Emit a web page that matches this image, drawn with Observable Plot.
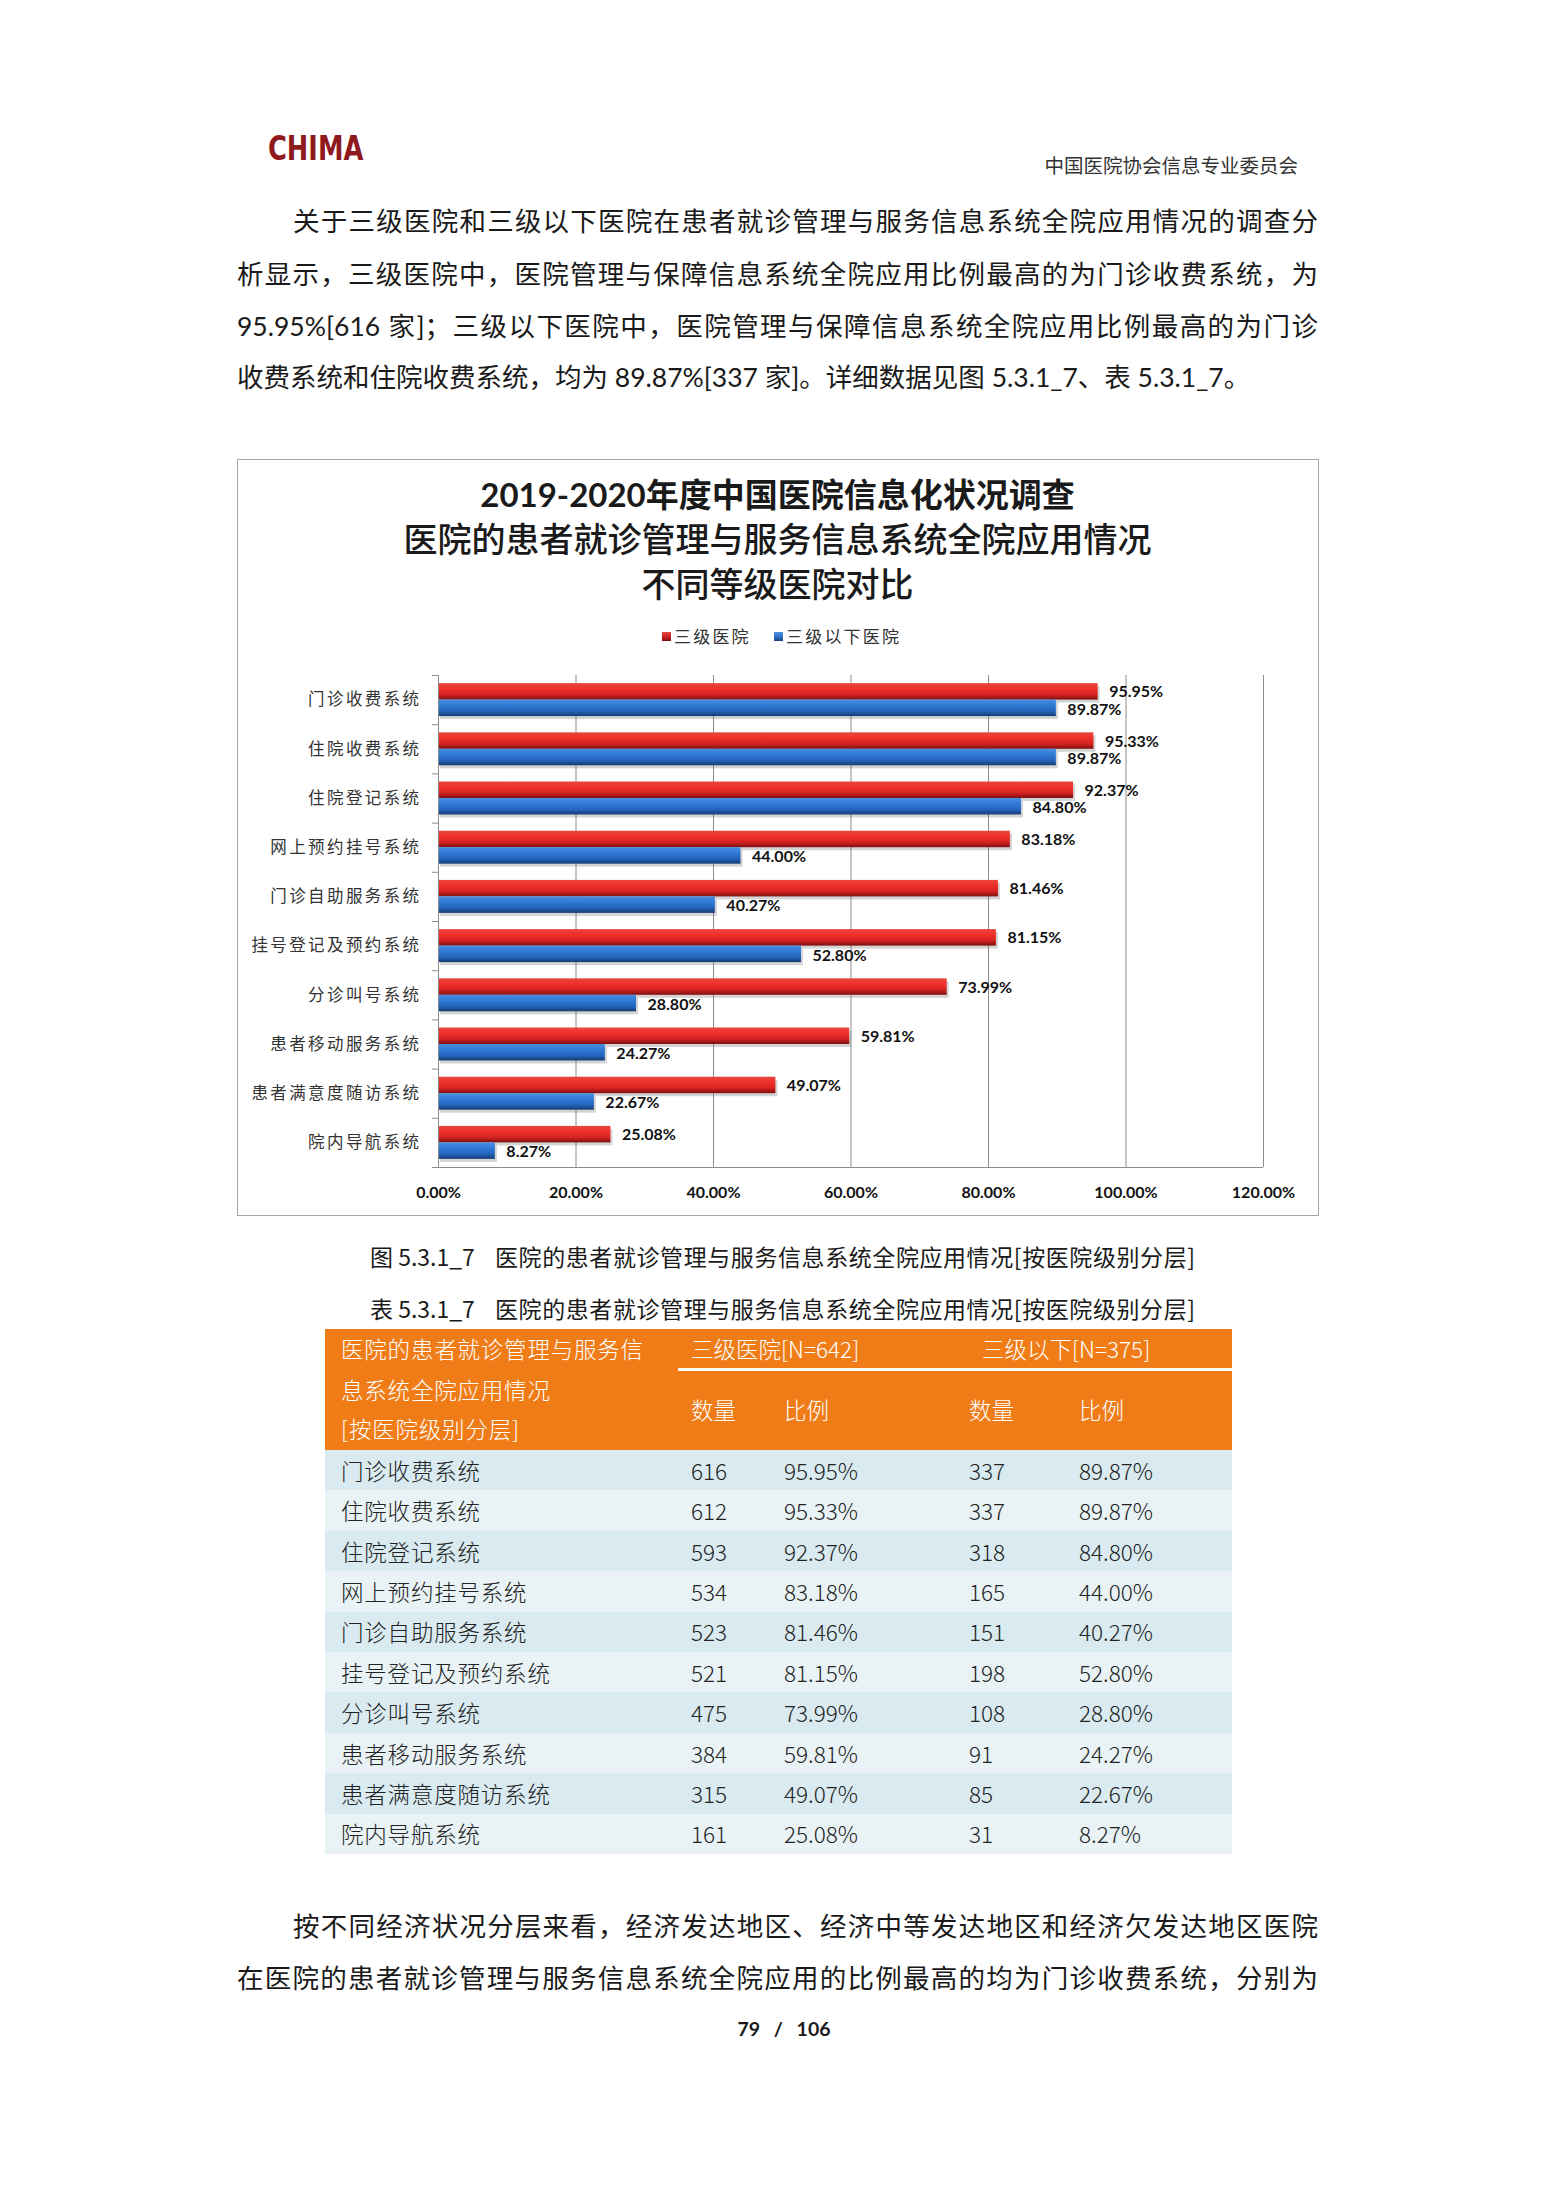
<!DOCTYPE html>
<html><head><meta charset="utf-8">
<script src="https://cdn.jsdelivr.net/npm/d3@7"></script>
<script src="https://cdn.jsdelivr.net/npm/@observablehq/plot@0.6"></script>
<style>
html,body{margin:0;padding:0;background:#fff;}
#page{position:relative;width:1555px;height:2199px;overflow:hidden;font-family:Lato,"Noto Sans CJK SC","Noto Sans",sans-serif;color:#1a1a1a;}
.t{position:absolute;white-space:nowrap;}
.j{position:absolute;white-space:nowrap;text-align:justify;text-align-last:justify;}
#box{position:absolute;left:237px;top:459px;width:1080px;height:755px;border:1px solid #a6a6a6;}
#chart{position:absolute;left:238px;top:660px;}
.sq{position:absolute;width:9px;height:9px;}
</style></head><body><div id="page"><div id="box"></div><div id="chart"></div></div>
<script>
// ---------- data ----------
const categories = ["门诊收费系统","住院收费系统","住院登记系统","网上预约挂号系统","门诊自助服务系统","挂号登记及预约系统","分诊叫号系统","患者移动服务系统","患者满意度随访系统","院内导航系统"];
const seriesNames = ["三级医院","三级以下医院"];
const pctTertiary = [95.95,95.33,92.37,83.18,81.46,81.15,73.99,59.81,49.07,25.08];
const pctLower = [89.87,89.87,84.80,44.00,40.27,52.80,28.80,24.27,22.67,8.27];
const cntTertiary = [616,612,593,534,523,521,475,384,315,161];
const cntLower = [337,337,318,165,151,198,108,91,85,31];
const nTertiary = 642, nLower = 375;
const xTicks = [0,20,40,60,80,100,120];
const titleLines = ["2019-2020年度中国医院信息化状况调查","医院的患者就诊管理与服务信息系统全院应用情况","不同等级医院对比"];
const tableHead = ["医院的患者就诊管理与服务信","息系统全院应用情况","[按医院级别分层]"];
const colHeads = ["数量","比例"];
const captionFig = ["图 5.3.1_7","医院的患者就诊管理与服务信息系统全院应用情况[按医院级别分层]"];
const captionTab = ["表 5.3.1_7","医院的患者就诊管理与服务信息系统全院应用情况[按医院级别分层]"];
const pct = v => v.toFixed(2) + "%";

// ---------- page text ----------
const page = document.getElementById("page");
function put(text, o) {
  const d = document.createElement("div");
  d.className = o.justify ? "j" : "t";
  d.textContent = text;
  const lh = o.lh || Math.round(o.size * 1.3);
  Object.assign(d.style, {
    left: (o.left || 0) + "px", top: (o.cy - lh / 2) + "px",
    fontSize: o.size + "px", lineHeight: lh + "px", height: lh + "px",
    color: o.color || "#1a1a1a", fontWeight: o.weight || "normal"
  });
  if (o.family) d.style.fontFamily = o.family;
  if (o.width) d.style.width = o.width + "px";
  if (o.align) d.style.textAlign = o.align;
  if (o.ls) d.style.letterSpacing = o.ls + "px";
  if (o.ws) d.style.wordSpacing = o.ws + "px";
  if (o.sx) { d.style.transform = `scaleX(${o.sx})`; d.style.transformOrigin = "left center"; }
  page.appendChild(d);
  return d;
}
const cjk = "'Noto Sans CJK SC', sans-serif";

// header
put("CHIMA", {left: 268, cy: 148, size: 34, weight: "bold", color: "#8f1a1e", family: "'Liberation Sans Narrow','DejaVu Sans Condensed',Roboto,sans-serif", sx: 0.84});
put("中国医院协会信息专业委员会", {left: 994, width: 304, align: "right", cy: 164, size: 19.5, color: "#333", family: cjk});

// paragraph 1
const p1 = [
  "关于三级医院和三级以下医院在患者就诊管理与服务信息系统全院应用情况的调查分",
  "析显示，三级医院中，医院管理与保障信息系统全院应用比例最高的为门诊收费系统，为",
  `${pct(pctTertiary[0])}[${cntTertiary[0]} 家]；三级以下医院中，医院管理与保障信息系统全院应用比例最高的为门诊`,
  `收费系统和住院收费系统，均为 ${pct(pctLower[0])}[${cntLower[0]} 家]。详细数据见图 5.3.1_7、表 5.3.1_7。`
];
put(p1[0], {left: 293, width: 1025, justify: true, cy: 221, size: 26.5});
put(p1[1], {left: 237, width: 1081, justify: true, cy: 274, size: 26.5});
put(p1[2], {left: 237, width: 1081, justify: true, cy: 326, size: 26.5});
put(p1[3], {left: 237, cy: 377, size: 26.5});

// chart title
put(titleLines[0], {left: 237, width: 1081, align: "center", cy: 494, size: 33, weight: "bold", family: "Lato,'Noto Sans CJK SC'"});
put(titleLines[1], {left: 237, width: 1081, align: "center", cy: 538, size: 34, weight: 500, family: cjk});
put(titleLines[2], {left: 237, width: 1081, align: "center", cy: 583, size: 34, weight: 500, family: cjk});

// legend
const legendColors = ["linear-gradient(#e8443c,#c42020 60%,#7a1010)", "linear-gradient(#4a90e0,#2a6fc8 60%,#163e78)"];
const legendX = [662, 774];
seriesNames.forEach((s, k) => {
  const q = document.createElement("div");
  q.className = "sq";
  q.style.left = legendX[k] + "px"; q.style.top = "632px"; q.style.background = legendColors[k];
  page.appendChild(q);
  put(s, {left: legendX[k] + 12, cy: 636, size: 17, color: "#333", family: cjk, ls: 2.2});
});

// ---------- chart ----------
const rows = categories.map((c, i) => ({c, i, t: pctTertiary[i], l: pctLower[i]}));
const axisGray = "#8c8c8c";
const chart = Plot.plot({
  width: 1079, height: 555,
  marginTop: 15, marginBottom: 48, marginLeft: 200, marginRight: 54,
  style: {fontFamily: "Lato,'Noto Sans CJK SC',sans-serif", background: "transparent", overflow: "visible"},
  x: {domain: [0, 120], axis: null},
  y: {domain: [10, 0], axis: null},
  marks: [
    Plot.ruleX(xTicks.filter(d => d > 0), {stroke: axisGray, strokeWidth: 1}),
    Plot.axisX({ticks: xTicks, tickSize: 0, tickPadding: 19, tickFormat: pct, fontWeight: "bold", fontSize: 16, color: "#111"}),
    Plot.axisY({ticks: d3.range(11), tickSize: 6, tickFormat: () => "", stroke: axisGray}),
    // drop shadows
    Plot.rect(rows, {x1: 0, x2: "t", y1: d => d.i + 0.165, y2: d => d.i + 0.5, fill: "#666", fillOpacity: 0.28, dx: 2, dy: 3}),
    Plot.rect(rows, {x1: 0, x2: "l", y1: d => d.i + 0.5, y2: d => d.i + 0.835, fill: "#666", fillOpacity: 0.28, dx: 2, dy: 3}),
    // bars
    Plot.rect(rows, {x1: 0, x2: "t", y1: d => d.i + 0.165, y2: d => d.i + 0.5, fill: "#e03131"}),
    Plot.rect(rows, {x1: 0, x2: "l", y1: d => d.i + 0.5, y2: d => d.i + 0.835, fill: "#2f78d4"}),
    Plot.ruleX([0], {stroke: axisGray}),
    Plot.ruleY([10], {stroke: axisGray}),
    // value labels
    Plot.text(rows, {x: "t", y: d => d.i + 0.34, text: d => pct(d.t), dx: 11, textAnchor: "start", fontWeight: "bold", fontSize: 16, fill: "#111"}),
    Plot.text(rows, {x: "l", y: d => d.i + 0.69, text: d => pct(d.l), dx: 11, textAnchor: "start", fontWeight: "bold", fontSize: 16, fill: "#111"}),
    // category labels
    Plot.text(rows, {x: 0, y: d => d.i + 0.5, text: "c", dx: -17, textAnchor: "end", fontSize: 16.5, fill: "#333", fontFamily: "'Noto Sans CJK SC'"})
  ]
});
const sel = d3.select(chart);
const defs = sel.insert("defs", ":first-child");
const grads = {gRed: [["0%", "#e8463e"], ["35%", "#f0302a"], ["70%", "#d42222"], ["100%", "#7e1010"]],
               gBlue: [["0%", "#4a8fe0"], ["35%", "#2f7ad6"], ["70%", "#2464bc"], ["100%", "#153c74"]]};
for (const [id, stops] of Object.entries(grads)) {
  const g = defs.append("linearGradient").attr("id", id).attr("x1", 0).attr("y1", 0).attr("x2", 0).attr("y2", 1);
  stops.forEach(([o, c]) => g.append("stop").attr("offset", o).attr("stop-color", c));
}
sel.selectAll("rect, g").each(function () {
  const f = (this.getAttribute("fill") || "").toLowerCase();
  if (f === "#e03131") this.setAttribute("fill", "url(#gRed)");
  if (f === "#2f78d4") this.setAttribute("fill", "url(#gBlue)");
});
sel.selectAll("text").filter(function () { return categories.includes(this.textContent); }).style("letter-spacing", "2.4px");
document.getElementById("chart").appendChild(chart);

// ---------- captions ----------
put(captionFig[0], {left: 370, cy: 1256, size: 23, family: cjk});
put(captionFig[1], {left: 495, width: 700, justify: true, cy: 1256, size: 23, family: cjk});
put(captionTab[0], {left: 370, cy: 1308, size: 23, family: cjk});
put(captionTab[1], {left: 495, width: 700, justify: true, cy: 1308, size: 23, family: cjk});

// ---------- table ----------
const tblLeft = 325, tblWidth = 907, headTop = 1329, headBottom = 1450, rowH = 40.4;
const bg = (l, t, w, h, c) => { const d = document.createElement("div"); Object.assign(d.style, {position: "absolute", left: l + "px", top: t + "px", width: w + "px", height: h + "px", background: c}); page.appendChild(d); };
bg(tblLeft, headTop, tblWidth, headBottom - headTop, "#f07c18");
bg(678, 1368, tblLeft + tblWidth - 678, 2.5, "#fff");
const tf = "'Noto Sans CJK SC',sans-serif";
put(tableHead[0], {left: 341, cy: 1348, size: 22.5, color: "#fff", family: tf, weight: 300, ls: 0.8});
put(tableHead[1], {left: 341, cy: 1389, size: 22.5, color: "#fff", family: tf, weight: 300, ls: 0.8});
put(tableHead[2], {left: 341, cy: 1428, size: 22.5, color: "#fff", family: tf, weight: 300, ls: 0.8});
put(`三级医院[N=${nTertiary}]`, {left: 691, cy: 1348, size: 22.5, color: "#fff", family: tf, weight: 300});
put(`三级以下[N=${nLower}]`, {left: 982, cy: 1348, size: 22.5, color: "#fff", family: tf, weight: 300});
const colX = [691, 784, 969, 1079];
[0, 1, 0, 1].forEach((h, k) => put(colHeads[h], {left: colX[k], cy: 1409, size: 22.5, color: "#fff", family: tf, weight: 300}));
categories.forEach((c, i) => {
  const top = headBottom + i * rowH;
  bg(tblLeft, top, tblWidth, rowH, i % 2 === 0 ? "#d9eaf0" : "#e9f3f6");
  const cy = top + rowH / 2;
  put(c, {left: 341, cy, size: 22.5, color: "#222", family: tf, weight: 300, ls: 0.8});
  put(String(cntTertiary[i]), {left: colX[0], cy, size: 22.5, color: "#222", family: tf, weight: 300});
  put(pct(pctTertiary[i]), {left: colX[1], cy, size: 22.5, color: "#222", family: tf, weight: 300});
  put(String(cntLower[i]), {left: colX[2], cy, size: 22.5, color: "#222", family: tf, weight: 300});
  put(pct(pctLower[i]), {left: colX[3], cy, size: 22.5, color: "#222", family: tf, weight: 300});
});

// ---------- paragraph 2 & footer ----------
put("按不同经济状况分层来看，经济发达地区、经济中等发达地区和经济欠发达地区医院", {left: 293, width: 1025, justify: true, cy: 1926, size: 26.5});
put("在医院的患者就诊管理与服务信息系统全院应用的比例最高的均为门诊收费系统，分别为", {left: 237, width: 1081, justify: true, cy: 1978, size: 26.5});
put("79 / 106", {left: 634, width: 300, align: "center", cy: 2028, size: 19.5, weight: "bold", ws: 9});
</script></body></html>
